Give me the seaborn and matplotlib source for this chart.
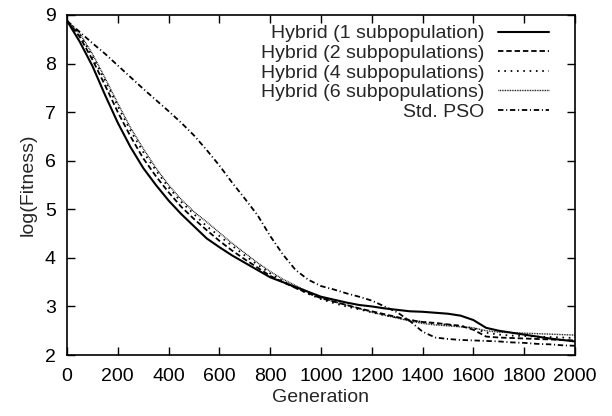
import matplotlib
matplotlib.use("Agg")
import matplotlib.pyplot as plt
import seaborn as sns
import pandas as pd

generations = list(range(0, 2001, 50))

hybrid_1 = [8.88, 8.45, 7.95, 7.35, 6.78, 6.28, 5.85, 5.50, 5.18, 4.90,
            4.65, 4.40, 4.22, 4.05, 3.90, 3.75, 3.60, 3.50, 3.40, 3.30,
            3.20, 3.14, 3.08, 3.03, 3.00, 2.96, 2.93, 2.90, 2.89, 2.87,
            2.85, 2.81, 2.72, 2.56, 2.50, 2.46, 2.42, 2.38, 2.34, 2.31, 2.28]

hybrid_2 = [8.88, 8.55, 8.08, 7.55, 7.00, 6.50, 6.05, 5.68, 5.35, 5.05,
            4.80, 4.57, 4.35, 4.15, 3.97, 3.80, 3.63, 3.50, 3.38, 3.27,
            3.17, 3.10, 3.03, 2.96, 2.90, 2.84, 2.78, 2.72, 2.68, 2.66,
            2.63, 2.60, 2.52, 2.38, 2.36, 2.35, 2.34, 2.33, 2.32, 2.31, 2.30]

hybrid_4 = [8.88, 8.60, 8.15, 7.65, 7.12, 6.62, 6.18, 5.80, 5.45, 5.15,
            4.90, 4.65, 4.45, 4.25, 4.05, 3.86, 3.68, 3.52, 3.38, 3.26,
            3.15, 3.07, 3.00, 2.94, 2.88, 2.82, 2.77, 2.72, 2.68, 2.65,
            2.62, 2.60, 2.55, 2.46, 2.42, 2.40, 2.39, 2.38, 2.37, 2.36, 2.35]

hybrid_6 = [8.88, 8.62, 8.20, 7.70, 7.18, 6.68, 6.25, 5.85, 5.50, 5.20,
            4.95, 4.74, 4.52, 4.30, 4.10, 3.90, 3.72, 3.56, 3.43, 3.30,
            3.18, 3.10, 3.03, 2.96, 2.88, 2.82, 2.76, 2.70, 2.65, 2.62,
            2.60, 2.58, 2.56, 2.50, 2.47, 2.46, 2.45, 2.44, 2.43, 2.42, 2.41]

std_pso = [8.88, 8.65, 8.42, 8.20, 7.96, 7.72, 7.48, 7.25, 7.02, 6.78,
           6.52, 6.22, 5.90, 5.55, 5.22, 4.88, 4.45, 4.07, 3.75, 3.55,
           3.42, 3.35, 3.27, 3.20, 3.12, 3.00, 2.88, 2.70, 2.48, 2.36,
           2.33, 2.31, 2.30, 2.29, 2.28, 2.26, 2.25, 2.23, 2.22, 2.20, 2.19]

labels = ["Hybrid (1 subpopulation)", "Hybrid (2 subpopulations)",
          "Hybrid (4 subpopulations)", "Hybrid (6 subpopulations)", "Std. PSO"]
series = [hybrid_1, hybrid_2, hybrid_4, hybrid_6, std_pso]

x_ticks = list(range(0, 2001, 200))
y_ticks = list(range(2, 10))

sns.set_style("ticks")
plt.rcParams['font.family'] = ['Liberation Sans', 'DejaVu Sans']
plt.rcParams['font.size'] = 14

fig = plt.figure(figsize=(6.12, 4.16), dpi=100)
ax = fig.add_axes([0.1095, 0.1466, 0.83, 0.8174])

styles = [
    dict(linestyle='-', linewidth=1.5),
    dict(linestyle=(0, (3.0, 1.6)), linewidth=1.3),
    dict(linestyle=(0, (0.9, 2.6)), linewidth=1.3),
    dict(linestyle=(0, (0.6, 0.6)), linewidth=1.0),
    dict(linestyle=(0, (3.0, 1.5, 0.6, 1.5)), linewidth=1.3),
]

for lab, vals, st in zip(labels, series, styles):
    df = pd.DataFrame({"Generation": generations, "val": vals})
    sns.lineplot(data=df, x="Generation", y="val", ax=ax, color="black",
                 label=lab, **st)

ax.set_xlim(0, 2000)
ax.set_ylim(2, 9)
ax.set_xticks(x_ticks)
ax.set_yticks(y_ticks)
ax.set_xlabel("Generation", fontsize=14, labelpad=3)
ax.set_ylabel("log(Fitness)", fontsize=14, labelpad=6)
ax.tick_params(direction='in', length=6, width=1, top=True, right=True,
               labelsize=14, colors='black')
ax.tick_params(axis='x', pad=9)
ax.tick_params(axis='y', pad=8)
for sp in ax.spines.values():
    sp.set_visible(True)
    sp.set_linewidth(1.2)
    sp.set_color('black')

leg = ax.legend(loc='upper right', bbox_to_anchor=(0.948, 0.971), frameon=False,
                markerfirst=False, handlelength=2.6, handletextpad=0.7,
                labelspacing=0.1, borderpad=0, borderaxespad=0, fontsize=14)

fig.savefig("out.png", dpi=100)
